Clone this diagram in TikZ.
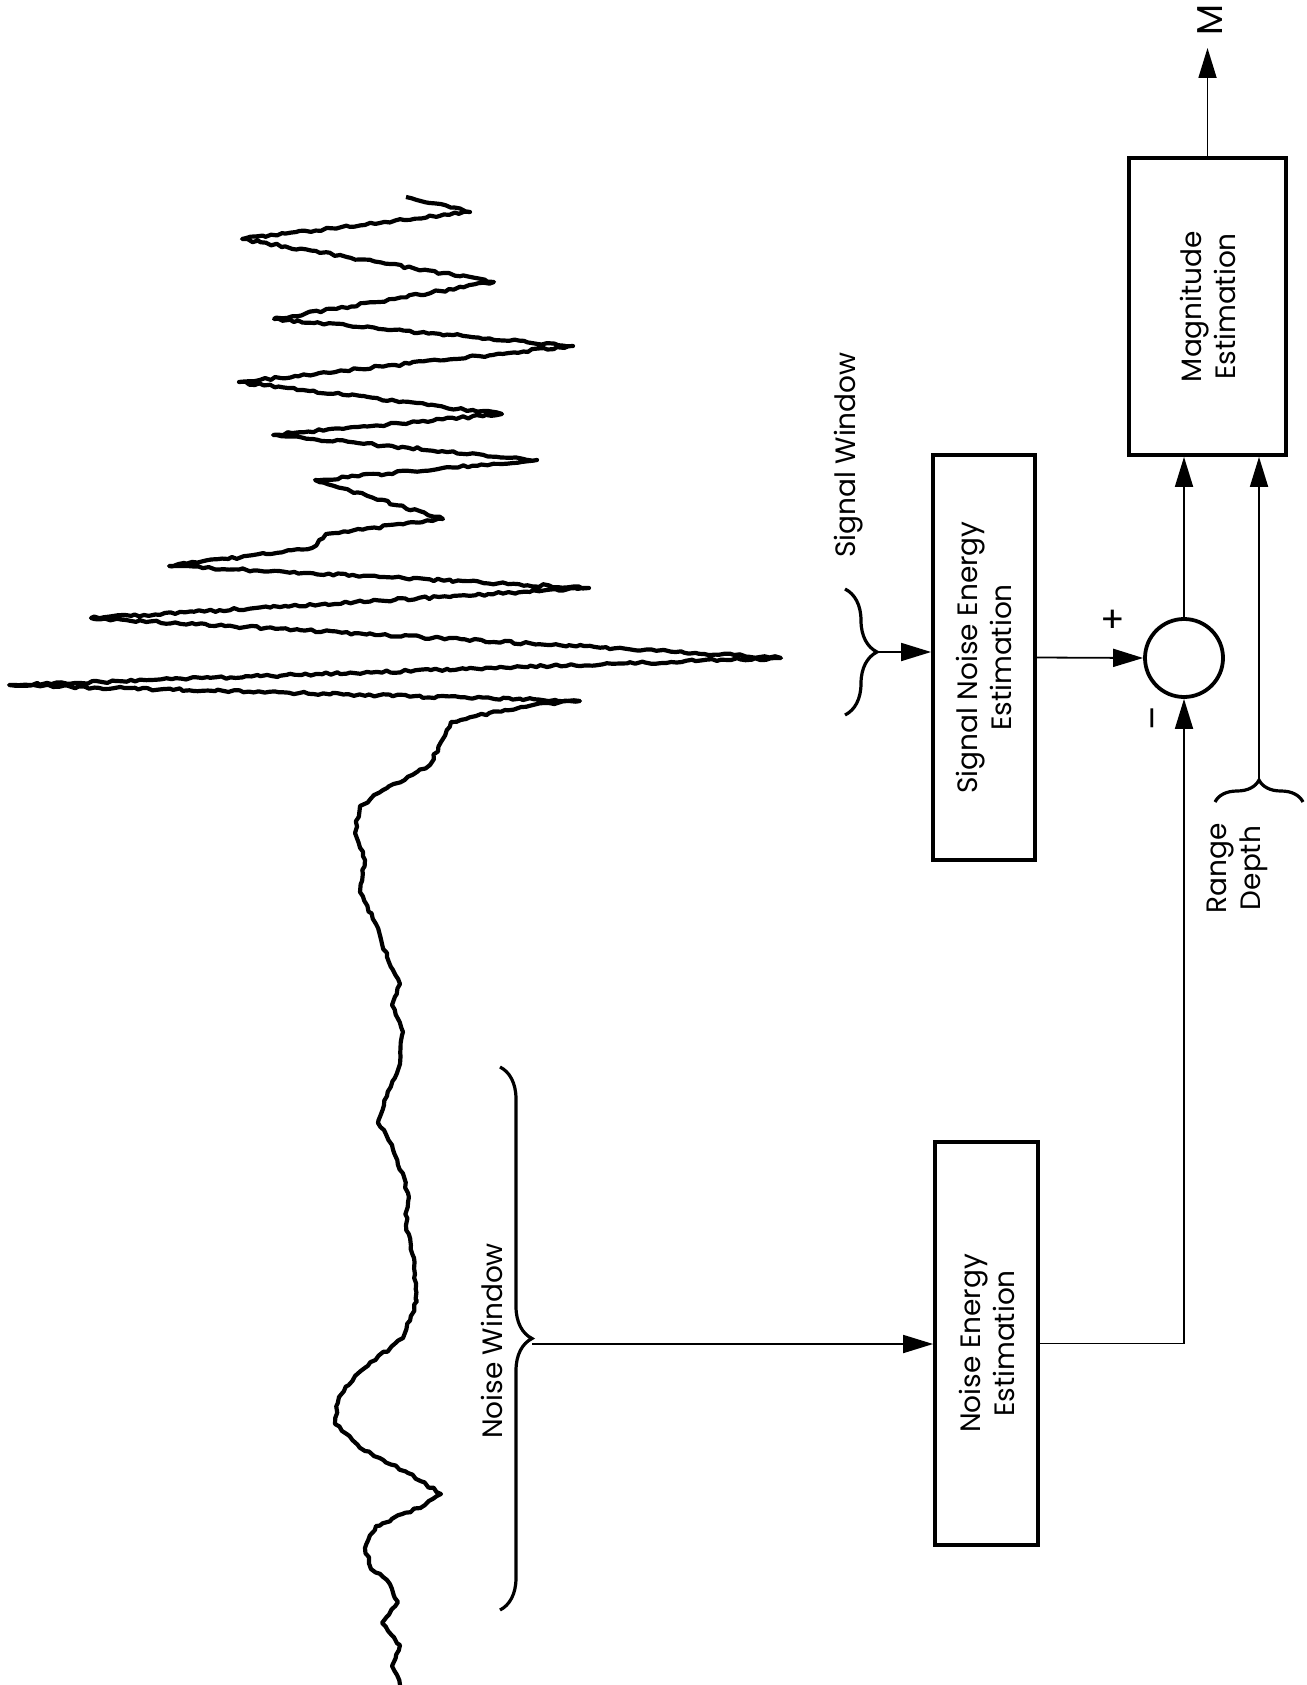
\documentclass[tikz,border=0pt]{standalone}
\usepackage{fontspec}
\setmainfont{Poppins}
\usetikzlibrary{arrows.meta,decorations.pathreplacing,decorations.pathmorphing}

\begin{document}
\begin{tikzpicture}[x=0.5pt, y=-0.5pt,
    blk/.style={draw, line width=1.9pt, rotate=90, align=center, inner sep=0pt, font=\fontsize{14}{17}\selectfont},
    lbl/.style={rotate=90, align=center, font=\fontsize{14}{17}\selectfont},
    sig/.style={line width=0.9pt, -{Triangle[length=15pt,width=9pt]}},
    brc/.style={line width=1.6pt, decorate},
    trace/.style={line width=2.1pt, line join=round, decorate, decoration={random steps, segment length=2.5pt, amplitude=0.7pt}}]
    \path[use as bounding box] (0,0) rectangle (1306,1685);
    \pgfmathsetseed{11}

    % seismogram
    \draw[trace] plot coordinates {
        (406,197) (470,212) (242,239) (494,282) (274,319) (573,346)
        (239,382) (502,414) (273,435) (537,460) (315,480) (443,519)
        (326,534) (312,548) (169,566) (589,588) (91,618) (781,658)
        (9,685) (580,701) (537,704) (505,710) (451,722) (441,742)
        (430,765) (387,788) (360,806) (355,833) (365,860) (360,892)
        (376,924) (387,957) (400,984) (392,1005) (403,1032) (400,1064)
        (387,1096) (378,1123) (392,1145) (408,1193) (406,1225) (414,1258)
        (417,1301) (403,1338) (355,1376) (339,1397) (335,1424) (365,1451)
        (408,1473) (441,1494) (425,1505) (376,1526) (365,1548) (371,1569)
        (387,1580) (398,1602) (382,1623) (400,1645) (392,1666) (400,1685)};

    % windows
    \draw[brc, decoration={brace, amplitude=16pt}] (845,589) -- (845,715);
    \coordinate (swin) at (877,652);
    \node[lbl] (swlab) at (849,455) {Signal Window};
    \draw[brc, decoration={brace, amplitude=16pt}] (500,1067) -- (500,1610);
    \coordinate (nwin) at (532,1344);
    \node[lbl] (nwlab) at (492,1341) {Noise Window};
    \draw[brc, decoration={brace, amplitude=11pt}] (1215,802) -- (1303,802);
    \coordinate (rdep) at (1259,780);
    \node[lbl] (rdlab) at (1237,868) {Range\\Depth};

    % blocks
    \node[blk, minimum width=202.5pt, minimum height=51pt] (sne) at (984,657.5) {Signal Noise Energy\\Estimation};
    \node[blk, minimum width=201.5pt, minimum height=51.5pt] (nee) at (986.5,1343.5) {Noise Energy\\Estimation};
    \node[blk, minimum width=148.5pt, minimum height=78.5pt] (mag) at (1207.5,306.5) {Magnitude\\Estimation};
    \node[circle, draw, line width=1.9pt, minimum size=39pt, inner sep=0pt] (sum) at (1184,658) {};
    \node[font=\fontsize{18}{18}\selectfont] (plus) at (1113,621) {+};
    \node[rotate=90, font=\fontsize{18}{18}\selectfont] (minus) at (1158,718) {--};
    \coordinate (out) at (1208,48);
    \node[lbl, font=\fontsize{18}{18}\selectfont] (mout) at (1210,20) {M};

    % connections
    \draw[sig] (swin) -- (swin -| sne.north);
    \draw[sig] (sne.south) -- (sum.west);
    \draw[sig] (nwin) -- (nwin -| nee.north);
    \draw[sig] (nee.south) -| (sum.south);
    \draw[sig] (sum.north) -- (sum.north |- mag.west);
    \draw[sig] (rdep) -- (rdep |- mag.west);
    \draw[sig] (mag.east) -- (mag.east |- out);
\end{tikzpicture}
\end{document}
